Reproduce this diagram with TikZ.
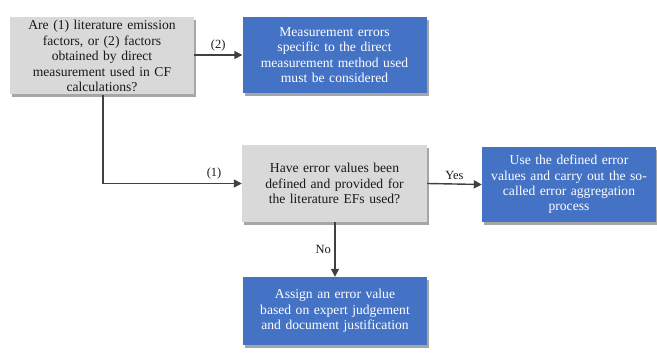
\documentclass[tikz,border=0pt]{standalone}
\usepackage{fontspec}
\setmainfont{Liberation Serif}
\usetikzlibrary{shadows,arrows.meta}
\definecolor{qgray}{HTML}{D9D9D9}
\definecolor{ablue}{HTML}{4472C4}
\tikzset{
  base/.style={rectangle, align=center, inner sep=2pt,
    font=\fontsize{13.6}{15.4}\selectfont,
    drop shadow={shadow xshift=2pt, shadow yshift=-3pt, opacity=0.35, fill=black}},
  question/.style={base, fill=qgray, text=black!90},
  action/.style={base, fill=ablue, text=white},
  flow/.style={draw=black!75, line width=1.4pt, -{Triangle[length=8pt,width=8pt]}},
  lbl/.style={font=\fontsize{12.5}{14}\selectfont, text=black!90}
}
\begin{document}
\begin{tikzpicture}[x=1pt,y=-1pt]
  \useasboundingbox (0,0) rectangle (657,353);

  \node[question, minimum width=182pt, minimum height=77pt, text width=180pt] (q1) at (102,56)
    {Are (1) literature emission\\factors, or (2) factors\\obtained by direct\\measurement used in CF\\calculations?};
  \node[action, minimum width=183pt, minimum height=76pt, text width=180pt] (m) at (334.5,55)
    {Measurement errors\\specific to the direct\\measurement method used\\must be considered};
  \node[question, minimum width=185pt, minimum height=77pt, text width=180pt] (q2) at (334.5,183.5)
    {Have error values been\\defined and provided for\\the literature EFs used?};
  \node[action, minimum width=172pt, minimum height=75pt, text width=170pt] (u) at (569,184.5)
    {Use the defined error\\values and carry out the so-\\called error aggregation\\process};
  \node[action, minimum width=184pt, minimum height=68pt, text width=180pt] (a) at (335,311)
    {Assign an error value\\based on expert judgement\\and document justification};

  \coordinate (corner) at (103,183.5);

  \draw[flow] (q1.east |- m.west) -- node[lbl, above] {(2)} (m.west);
  \draw[flow] (103,95) -- (corner) -- node[lbl, above, pos=0.8] {(1)} (q2.west);
  \draw[flow] (q2.east) -- node[lbl, above] {Yes} (u.west);
  \draw[flow] (q2.south -| a.north) -- node[lbl, left] {No} (a.north);
\end{tikzpicture}
\end{document}
